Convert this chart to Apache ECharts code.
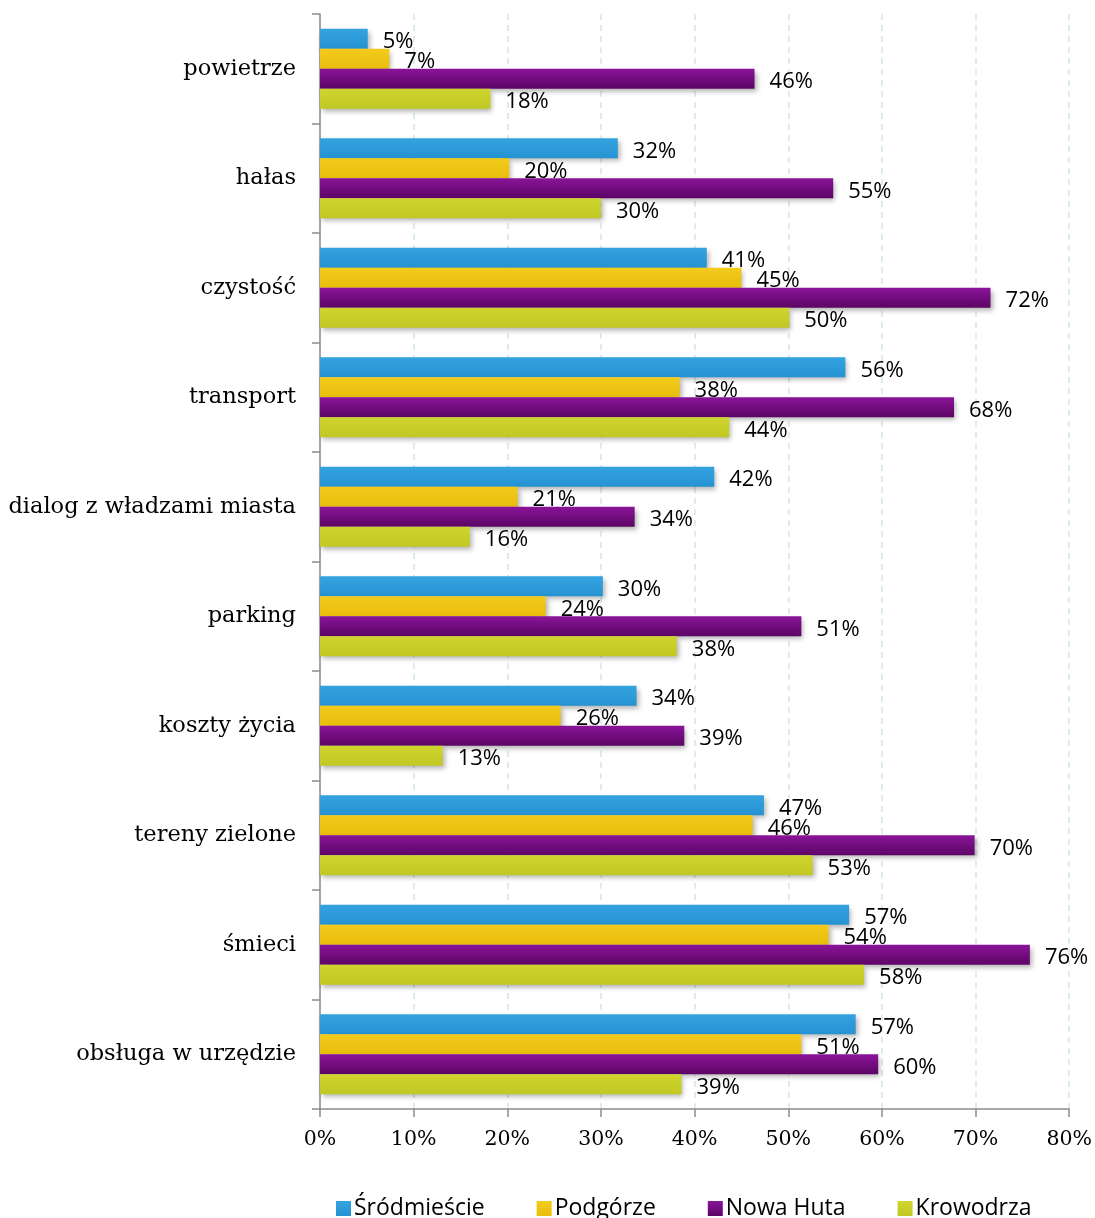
<!DOCTYPE html>
<html><head><meta charset="utf-8">
<script src="https://cdn.jsdelivr.net/npm/echarts@6/dist/echarts.min.js"></script>
<style>html,body{margin:0;padding:0;background:#fff}#c{width:1095px;height:1218px}</style>
</head><body><div id="c"></div>
<script>
const categories = ['powietrze','hałas','czystość','transport','dialog z władzami miasta','parking','koszty życia','tereny zielone','śmieci','obsługa w urzędzie'];
const seriesNames = ['Śródmieście','Podgórze','Nowa Huta','Krowodrza'];
const srodmiescie = [5.1, 31.8, 41.3, 56.1, 42.1, 30.2, 33.8, 47.4, 56.5, 57.2];
const podgorze    = [7.4, 20.2, 45.0, 38.4, 21.1, 24.1, 25.7, 46.2, 54.3, 51.4];
const nowaHuta    = [46.4, 54.8, 71.6, 67.7, 33.6, 51.4, 38.9, 69.9, 75.8, 59.6];
const krowodrza   = [18.2, 30.0, 50.1, 43.7, 16.0, 38.1, 13.1, 52.6, 58.1, 38.6];
const xTicks = [0,10,20,30,40,50,60,70,80];

const colors = [
  ['#35a3e0','#2592d2'],
  ['#f3cb1c','#e9bd0c'],
  ['#8a1499','#5c0565'],
  ['#cfd52e','#c1c823']
];
const allData = [srodmiescie, podgorze, nowaHuta, krowodrza];

const chart = echarts.init(document.getElementById('c'), null, {renderer:'canvas'});
chart.setOption({
  animation:false,
  grid:{left:320,right:25,top:14,bottom:109,containLabel:false},
  legend:{
    top:1192, left:331, itemWidth:15, itemHeight:15, itemGap:52,
    icon:'rect',
    textStyle:{fontFamily:'Open Sans',fontSize:23,color:'#000',padding:[0,0,0,-2]},
    data:seriesNames
  },
  xAxis:{
    type:'value', min:xTicks[0], max:xTicks[xTicks.length-1], interval:10,
    axisLine:{show:true,lineStyle:{color:'#8c8c8c',width:1.5}},
    axisTick:{show:true,length:8,lineStyle:{color:'#8c8c8c',width:1.5}},
    axisLabel:{formatter:v=>v+'%',fontFamily:'DejaVu Serif',fontSize:20.5,color:'#000',margin:20},
    splitLine:{show:true,lineStyle:{color:'#cfe6ee',type:[6,5],width:1.5}}
  },
  yAxis:{
    type:'category', data:categories, inverse:true,
    axisLine:{show:true,lineStyle:{color:'#8c8c8c',width:1.5}},
    axisTick:{show:true,length:8,inside:false,lineStyle:{color:'#8c8c8c',width:1.5}},
    axisLabel:{fontFamily:'DejaVu Serif',fontSize:22.5,color:'#000',margin:24,padding:[5,0,0,0]}
  },
  series: seriesNames.map((n,i)=>({
    name:n, type:'bar', data:allData[i], barWidth:20, barGap:'0%',
    itemStyle:{
      color:new echarts.graphic.LinearGradient(0,0,0,1,[{offset:0,color:colors[i][0]},{offset:1,color:colors[i][1]}]),
      shadowBlur:5, shadowOffsetY:3, shadowOffsetX:2, shadowColor:'rgba(0,0,0,0.3)'
    },
    label:{show:true,position:'right',distance:15,offset:[0,3],formatter:p=>Math.round(p.value)+'%',
      fontFamily:'Open Sans',fontSize:22,color:'#000'}
  }))
});
</script></body></html>
